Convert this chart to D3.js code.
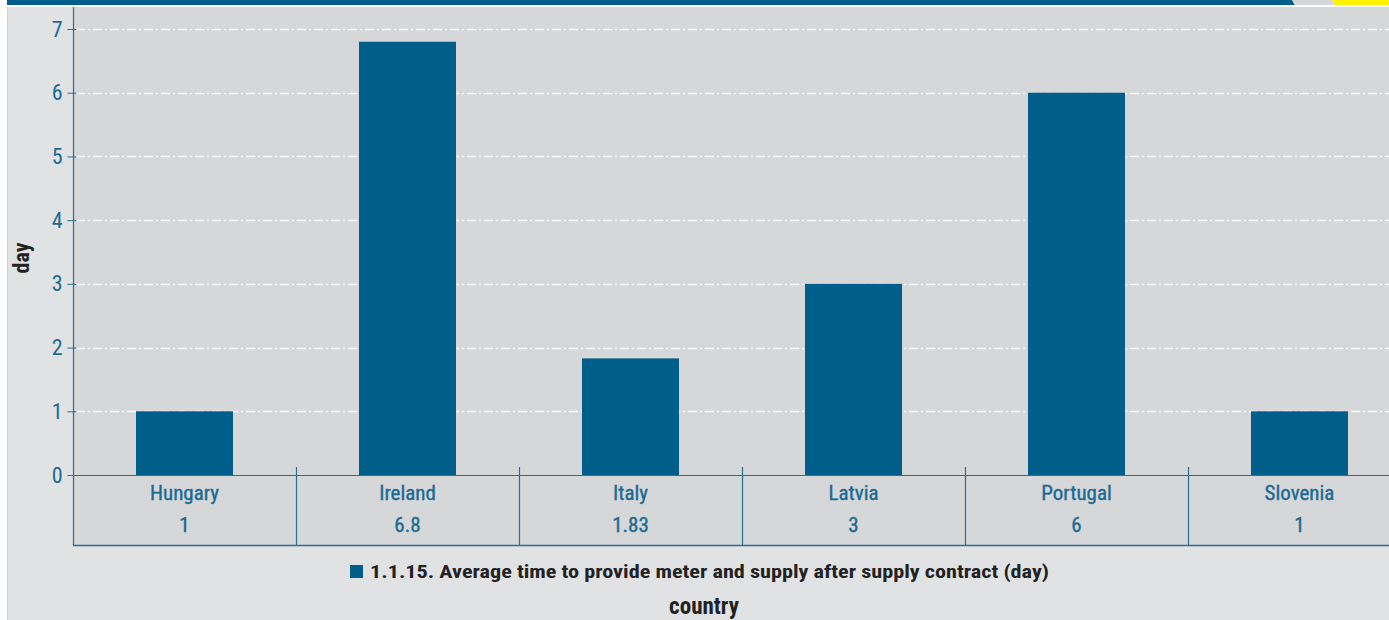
<!DOCTYPE html>
<html>
<head>
<meta charset="utf-8">
<script src="https://cdn.jsdelivr.net/npm/d3@7"></script>
<style>
  html, body { margin: 0; padding: 0; background: #ffffff; overflow: hidden; }
  svg { display: block; }
</style>
</head>
<body>
<svg id="chart" width="1389" height="620"></svg>
<script>
// Average time to provide meter and supply after supply contract
const countries = ["Hungary", "Ireland", "Italy", "Latvia", "Portugal", "Slovenia"];
const days = [1, 6.8, 1.83, 3, 6, 1];
const valueLabels = ["1", "6.8", "1.83", "3", "6", "1"];
const yTicks = [0, 1, 2, 3, 4, 5, 6, 7];
const legendText = "1.1.15. Average time to provide meter and supply after supply contract (day)";

const W = 1389, H = 620;
const svg = d3.select("#chart");

const blue = "#005e8a";
const axisBlue = "#2a6f95";
const textBlue = "#1b6a92";
const condensed = "'Roboto Condensed', 'Liberation Sans Narrow', 'DejaVu Sans Condensed', sans-serif";
const boldFont = "'Roboto Condensed', 'Liberation Sans Narrow', 'DejaVu Sans Condensed', sans-serif";

// page banner
svg.append("rect").attr("x", 0).attr("y", 0).attr("width", W).attr("height", H).attr("fill", "#ffffff");
svg.append("polygon").attr("points", "7,0 1292,0 1295,5 7,5").attr("fill", "#005e8a");
svg.append("polygon").attr("points", "1292,0 1332,0 1335,5 1295,5").attr("fill", "#d6d7d9");
svg.append("polygon").attr("points", "1332,0 1389,0 1389,5 1335,5").attr("fill", "#fff200");

// panel background
svg.append("rect").attr("x", 7).attr("y", 7).attr("width", W - 7).attr("height", H - 7).attr("fill", "#e1e2e4");
svg.append("line").attr("x1", 7.5).attr("x2", 7.5).attr("y1", 7).attr("y2", H).attr("stroke", "#cfd0d2");

const plotLeft = 73, plotTop = 7, baseline = 475, tableBottom = 545;
// plot + table area
svg.append("rect").attr("x", plotLeft).attr("y", plotTop).attr("width", W - plotLeft).attr("height", tableBottom - plotTop).attr("fill", "#d6d7d9");

const y = d3.scaleLinear().domain([0, 7]).range([baseline, 29]);
const x = d3.scaleBand().domain(countries).range([plotLeft, 1411]).padding(0);
const barFrac = 0.435;

// grid lines
svg.append("g").selectAll("line").data(yTicks.filter(d => d > 0)).join("line")
  .attr("x1", plotLeft + 3).attr("x2", W)
  .attr("y1", d => Math.round(y(d)) + 0.5).attr("y2", d => Math.round(y(d)) + 0.5)
  .attr("stroke", "#ffffff").attr("stroke-width", 1.3)
  .attr("stroke-dasharray", "9,3,2,3").attr("opacity", 0.9);

// bars
svg.append("g").selectAll("rect").data(countries).join("rect")
  .attr("x", d => x(d) + x.bandwidth() * (1 - barFrac) / 2)
  .attr("width", x.bandwidth() * barFrac)
  .attr("y", (d, i) => y(days[i]))
  .attr("height", (d, i) => baseline - y(days[i]))
  .attr("fill", blue);

// y axis
const yAxis = d3.axisLeft(y).tickValues(yTicks).tickSize(6).tickPadding(5).tickFormat(d3.format("d"));
const gy = svg.append("g").attr("transform", `translate(${plotLeft + 0.5},0)`).call(yAxis);
gy.select(".domain").remove();
gy.selectAll(".tick line").attr("stroke", axisBlue).attr("x2", 3).attr("x1", -6);
gy.selectAll(".tick text").attr("fill", textBlue).attr("font-family", condensed).attr("font-size", 22);
svg.append("line").attr("x1", plotLeft + 0.5).attr("x2", plotLeft + 0.5).attr("y1", plotTop).attr("y2", tableBottom)
  .attr("stroke", axisBlue).attr("stroke-width", 1.2);

// data table under the axis
svg.append("line").attr("x1", plotLeft).attr("x2", W).attr("y1", baseline + 0.5).attr("y2", baseline + 0.5)
  .attr("stroke", axisBlue).attr("stroke-width", 1.2);
svg.append("line").attr("x1", plotLeft).attr("x2", W).attr("y1", tableBottom + 0.5).attr("y2", tableBottom + 0.5)
  .attr("stroke", axisBlue).attr("stroke-width", 1.5);
svg.append("g").selectAll("line").data(countries.slice(1)).join("line")
  .attr("x1", d => Math.round(x(d)) + 0.5).attr("x2", d => Math.round(x(d)) + 0.5)
  .attr("y1", baseline - 8).attr("y2", tableBottom)
  .attr("stroke", axisBlue).attr("stroke-width", 1.2);

const cells = svg.append("g").selectAll("g").data(countries).join("g")
  .attr("transform", d => `translate(${x(d) + x.bandwidth() / 2},0)`);
cells.append("text").attr("y", 500).attr("text-anchor", "middle")
  .attr("font-family", condensed).attr("font-size", 21).attr("fill", textBlue)
  .attr("stroke", textBlue).attr("stroke-width", 0.35)
  .text(d => d);
cells.append("text").attr("y", 532).attr("text-anchor", "middle")
  .attr("font-family", condensed).attr("font-size", 21).attr("fill", textBlue)
  .attr("stroke", textBlue).attr("stroke-width", 0.35)
  .text((d, i) => valueLabels[i]);

// y axis title
svg.append("text").attr("transform", "translate(29,258) rotate(-90)")
  .attr("text-anchor", "middle").attr("font-family", boldFont).attr("font-weight", "bold")
  .attr("font-size", 22).attr("fill", "#222").text("day");

// legend
svg.append("rect").attr("x", 350).attr("y", 565).attr("width", 13).attr("height", 13).attr("fill", blue);
svg.append("text").attr("x", 370).attr("y", 578)
  .attr("font-family", boldFont).attr("font-weight", "bold").attr("font-size", 18)
  .attr("fill", "#222").attr("textLength", 679).attr("lengthAdjust", "spacingAndGlyphs")
  .text(legendText);

// x axis title
svg.append("text").attr("x", 704).attr("y", 614).attr("text-anchor", "middle")
  .attr("font-family", boldFont).attr("font-weight", "bold").attr("font-size", 23)
  .attr("fill", "#222").text("country");
</script>
</body>
</html>
